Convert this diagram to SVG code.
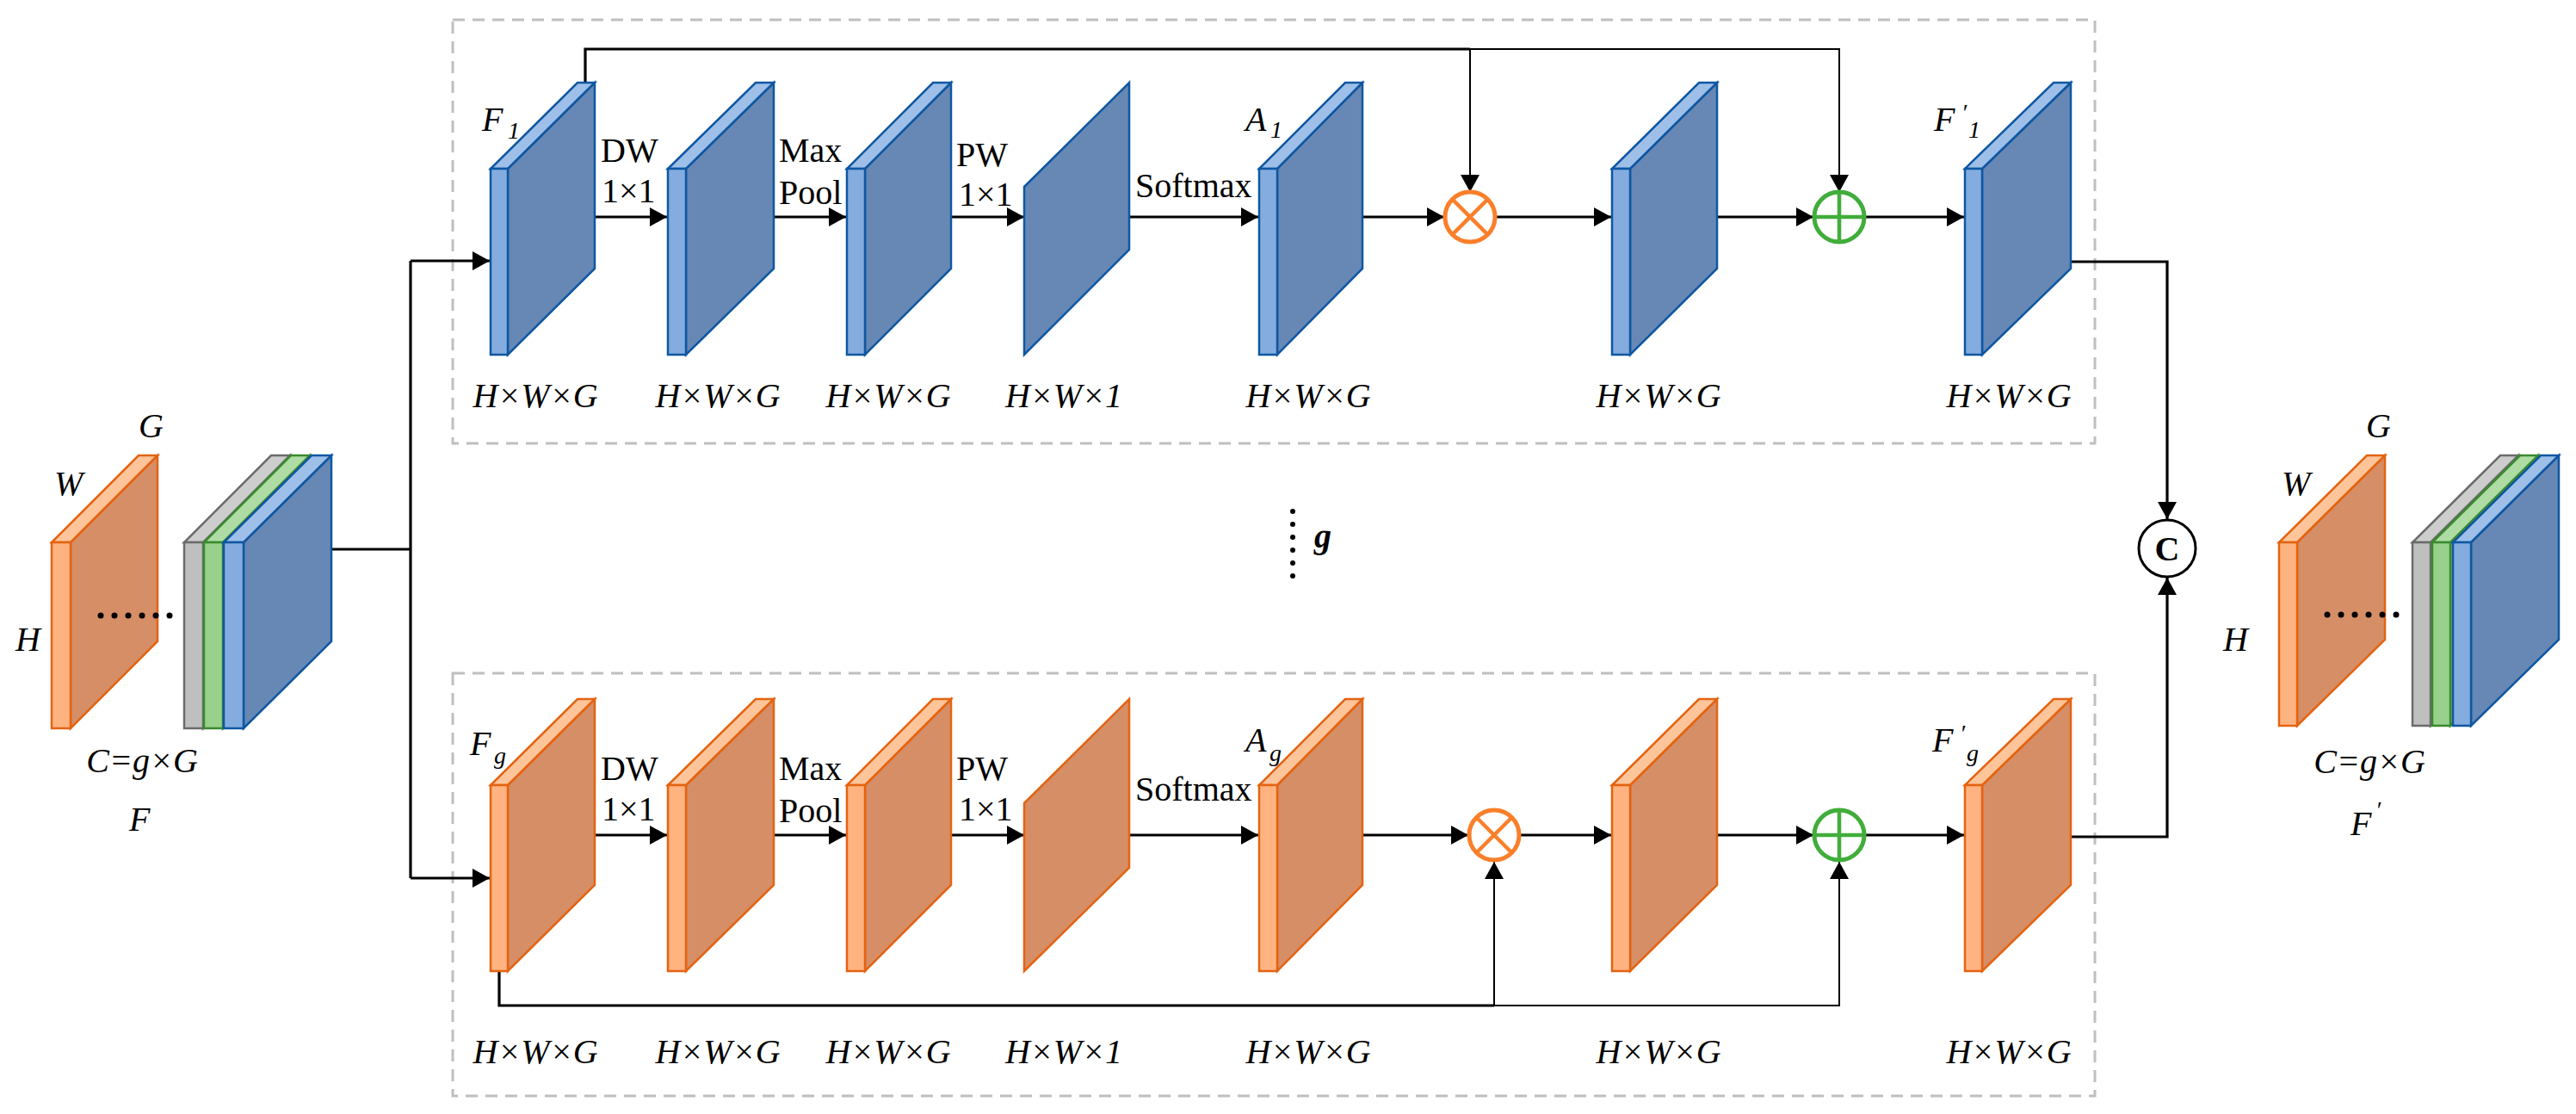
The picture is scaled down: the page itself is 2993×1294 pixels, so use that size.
<svg xmlns="http://www.w3.org/2000/svg" width="2993" height="1294" viewBox="0 0 2993 1294">
<defs>
<style>
.bs{fill:#6788B5;stroke:#0F57A2;stroke-width:2.5;stroke-linejoin:miter}
.bf{fill:#84ACDE;stroke:#0F57A2;stroke-width:2.5}
.bt{fill:#9EBFE8;stroke:#0F57A2;stroke-width:2.5}
.os{fill:#D68E66;stroke:#E46311;stroke-width:2.5}
.of{fill:#FFB380;stroke:#E46311;stroke-width:2.5}
.ot{fill:#FFC59A;stroke:#E46311;stroke-width:2.5}
.gf{fill:#BFBFBF;stroke:#6B6B6B;stroke-width:2.5}
.gt{fill:#CDCDCD;stroke:#6B6B6B;stroke-width:2.5}
.nf{fill:#97D18C;stroke:#3A8A2E;stroke-width:2.5}
.nt{fill:#AEDCA4;stroke:#3A8A2E;stroke-width:2.5}
.box{fill:none;stroke:#BFBFBF;stroke-width:3;stroke-dasharray:14 9}
.ln{fill:none;stroke:#000;stroke-width:3.2}
.tn{fill:none;stroke:#000;stroke-width:2}
.t{font-family:"Liberation Serif","Times New Roman",serif;font-size:40px;fill:#000}
.i{font-style:italic}
.sub{font-size:28px}
.m{text-anchor:middle}
</style>
<marker id="ah" viewBox="0 0 20 22" markerWidth="20" markerHeight="22" refX="20" refY="11" orient="auto" markerUnits="userSpaceOnUse">
<path d="M0,0 L20,11 L0,22 z" fill="#000"/>
</marker>
</defs>
<rect width="2993" height="1294" fill="#fff"/>

<!-- dashed group boxes -->
<rect class="box" x="526" y="23" width="1908" height="492"/>
<rect class="box" x="526" y="782" width="1908" height="491"/>

<!-- connectors -->
<g id="connectors">
<path class="ln" d="M385,638 H477"/>
<path class="ln" d="M477,303 V1020"/>
<path class="ln" d="M477,303 H569" marker-end="url(#ah)"/>
<path class="ln" d="M477,1020 H569" marker-end="url(#ah)"/>
<!-- upper row -->
<path class="ln" d="M691,252 H775" marker-end="url(#ah)"/>
<path class="ln" d="M899,252 H983" marker-end="url(#ah)"/>
<path class="ln" d="M1105,252 H1190" marker-end="url(#ah)"/>
<path class="ln" d="M1312,252 H1462" marker-end="url(#ah)"/>
<path class="ln" d="M1583,252 H1678" marker-end="url(#ah)"/>
<path class="ln" d="M1738,252 H1872" marker-end="url(#ah)"/>
<path class="ln" d="M1995,252 H2107" marker-end="url(#ah)"/>
<path class="ln" d="M2167,252 H2282" marker-end="url(#ah)"/>
<path class="ln" d="M680,96 V57 H1708"/>
<path class="tn" d="M1708,57 H2137 V223" marker-end="url(#ah)"/>
<path class="tn" d="M1708,57 V223" marker-end="url(#ah)"/>
<path class="ln" d="M2406,304 H2518 V603" marker-end="url(#ah)"/>
<!-- lower row -->
<path class="ln" d="M691,970 H775" marker-end="url(#ah)"/>
<path class="ln" d="M899,970 H983" marker-end="url(#ah)"/>
<path class="ln" d="M1105,970 H1190" marker-end="url(#ah)"/>
<path class="ln" d="M1312,970 H1462" marker-end="url(#ah)"/>
<path class="ln" d="M1583,970 H1706" marker-end="url(#ah)"/>
<path class="ln" d="M1766,970 H1872" marker-end="url(#ah)"/>
<path class="ln" d="M1995,970 H2107" marker-end="url(#ah)"/>
<path class="ln" d="M2167,970 H2282" marker-end="url(#ah)"/>
<path class="ln" d="M580,1128 V1168 H1736"/>
<path class="tn" d="M1736,1168 H2137 V1001" marker-end="url(#ah)"/>
<path class="tn" d="M1736,1168 V1001" marker-end="url(#ah)"/>
<path class="ln" d="M2406,972 H2518 V671" marker-end="url(#ah)"/>
</g>

<!-- input tensor F -->
<g id="input-F">
<polygon class="os" points="82,630 183,529 183,745 82,846"/>
<polygon class="ot" points="60,630 82,630 183,529 161,529"/>
<rect class="of" x="60" y="630" width="22" height="216"/>
<g fill="#000"><circle cx="117" cy="715" r="3.5"/><circle cx="133" cy="715" r="3.5"/><circle cx="149" cy="715" r="3.5"/><circle cx="165" cy="715" r="3.5"/><circle cx="181" cy="715" r="3.5"/><circle cx="197" cy="715" r="3.5"/></g>
<polygon class="gf" points="236,630 337,529 337,745 236,846"/>
<polygon class="gt" points="214,630 236,630 337,529 315,529"/>
<rect class="gf" x="214" y="630" width="22" height="216"/>
<polygon class="nf" points="259,630 360,529 360,745 259,846"/>
<polygon class="nt" points="237,630 259,630 360,529 338,529"/>
<rect class="nf" x="237" y="630" width="22" height="216"/>
<polygon class="bs" points="283,630 385,529 385,745 283,846"/>
<polygon class="bt" points="260,630 283,630 385,529 362,529"/>
<rect class="bf" x="260" y="630" width="23" height="216"/>
<text class="t i" x="161" y="508">G</text>
<text class="t i" x="63" y="575">W</text>
<text class="t i" x="18" y="756">H</text>
<text class="t i m" x="165" y="897">C=g×G</text>
<text class="t i" x="150" y="965">F</text>
</g>

<!-- upper branch -->
<g id="F1">
<polygon class="bs" points="590,196 691,96 691,312 590,412"/>
<polygon class="bt" points="570,196 590,196 691,96 671,96"/>
<rect class="bf" x="570" y="196" width="20" height="216"/>
<text class="t i" x="560" y="152">F</text><text class="t i sub" x="590" y="161">1</text>
<text class="t i m" x="622" y="473">H×W×G</text>
</g>
<g id="DW1">
<polygon class="bs" points="797,196 899,96 899,312 797,412"/>
<polygon class="bt" points="776,196 797,196 899,96 878,96"/>
<rect class="bf" x="776" y="196" width="21" height="216"/>
<text class="t" x="698" y="188">DW</text><text class="t" x="699" y="235">1×1</text>
<text class="t i m" x="834" y="473">H×W×G</text>
</g>
<g id="MP1">
<polygon class="bs" points="1005,196 1105,96 1105,312 1005,412"/>
<polygon class="bt" points="984,196 1005,196 1105,96 1084,96"/>
<rect class="bf" x="984" y="196" width="21" height="216"/>
<text class="t" x="905" y="188">Max</text><text class="t" x="905" y="237">Pool</text>
<text class="t i m" x="1032" y="473">H×W×G</text>
</g>
<g id="PW1">
<polygon class="bs" points="1190,217 1312,96 1312,290 1190,412"/>
<text class="t" x="1111" y="193">PW</text><text class="t" x="1114" y="239">1×1</text>
<text class="t i m" x="1236" y="473">H×W×1</text>
</g>
<g id="A1">
<polygon class="bs" points="1484,196 1583,96 1583,312 1484,412"/>
<polygon class="bt" points="1463,196 1484,196 1583,96 1563,96"/>
<rect class="bf" x="1463" y="196" width="21" height="216"/>
<text class="t" x="1319" y="229">Softmax</text>
<text class="t i" x="1447" y="152">A</text><text class="t i sub" x="1476" y="160">1</text>
<text class="t i m" x="1520" y="473">H×W×G</text>
</g>
<g id="mul1">
<circle cx="1708" cy="252" r="29" fill="#fff" stroke="#FA7F2A" stroke-width="5"/>
<path d="M1687.5,231.5 L1728.5,272.5 M1728.5,231.5 L1687.5,272.5" stroke="#FA7F2A" stroke-width="4.5"/>
</g>
<g id="M1">
<polygon class="bs" points="1894,196 1995,96 1995,312 1894,412"/>
<polygon class="bt" points="1873,196 1894,196 1995,96 1974,96"/>
<rect class="bf" x="1873" y="196" width="21" height="216"/>
<text class="t i m" x="1927" y="473">H×W×G</text>
</g>
<g id="add1">
<circle cx="2137" cy="252" r="29" fill="#fff" stroke="#41AD3B" stroke-width="5"/>
<path d="M2108,252 H2166 M2137,223 V281" stroke="#41AD3B" stroke-width="4.5"/>
</g>
<g id="Fp1">
<polygon class="bs" points="2303,196 2406,96 2406,312 2303,412"/>
<polygon class="bt" points="2283,196 2303,196 2406,96 2386,96"/>
<rect class="bf" x="2283" y="196" width="20" height="216"/>
<text class="t i" x="2247" y="152">F</text><text class="t i sub" x="2279" y="140">′</text><text class="t i sub" x="2287" y="160">1</text>
<text class="t i m" x="2334" y="473">H×W×G</text>
</g>

<!-- middle ellipsis -->
<g id="ellipsis-g">
<g fill="#000"><circle cx="1502" cy="594" r="3"/><circle cx="1502" cy="609" r="3"/><circle cx="1502" cy="624" r="3"/><circle cx="1502" cy="639" r="3"/><circle cx="1502" cy="654" r="3"/><circle cx="1502" cy="669" r="3"/></g>
<text class="t i" x="1527" y="636" font-weight="bold" font-size="44">g</text>
</g>

<!-- lower branch -->
<g id="Fg">
<polygon class="os" points="590,912 691,812 691,1028 590,1128"/>
<polygon class="ot" points="570,912 590,912 691,812 671,812"/>
<rect class="of" x="570" y="912" width="20" height="216"/>
<text class="t i" x="546" y="877">F</text><text class="t i sub" x="574" y="887">g</text>
<text class="t i m" x="622" y="1235">H×W×G</text>
</g>
<g id="DWg">
<polygon class="os" points="797,912 899,812 899,1028 797,1128"/>
<polygon class="ot" points="776,912 797,912 899,812 878,812"/>
<rect class="of" x="776" y="912" width="21" height="216"/>
<text class="t" x="698" y="906">DW</text><text class="t" x="699" y="953">1×1</text>
<text class="t i m" x="834" y="1235">H×W×G</text>
</g>
<g id="MPg">
<polygon class="os" points="1005,912 1105,812 1105,1028 1005,1128"/>
<polygon class="ot" points="984,912 1005,912 1105,812 1084,812"/>
<rect class="of" x="984" y="912" width="21" height="216"/>
<text class="t" x="905" y="906">Max</text><text class="t" x="905" y="955">Pool</text>
<text class="t i m" x="1032" y="1235">H×W×G</text>
</g>
<g id="PWg">
<polygon class="os" points="1190,933 1312,812 1312,1008 1190,1128"/>
<text class="t" x="1111" y="906">PW</text><text class="t" x="1114" y="953">1×1</text>
<text class="t i m" x="1236" y="1235">H×W×1</text>
</g>
<g id="Ag">
<polygon class="os" points="1484,912 1583,812 1583,1028 1484,1128"/>
<polygon class="ot" points="1463,912 1484,912 1583,812 1563,812"/>
<rect class="of" x="1463" y="912" width="21" height="216"/>
<text class="t" x="1319" y="930">Softmax</text>
<text class="t i" x="1447" y="873">A</text><text class="t i sub" x="1475" y="884">g</text>
<text class="t i m" x="1520" y="1235">H×W×G</text>
</g>
<g id="mulg">
<circle cx="1736" cy="970" r="29" fill="#fff" stroke="#FA7F2A" stroke-width="5"/>
<path d="M1715.5,949.5 L1756.5,990.5 M1756.5,949.5 L1715.5,990.5" stroke="#FA7F2A" stroke-width="4.5"/>
</g>
<g id="Mg">
<polygon class="os" points="1894,912 1995,812 1995,1028 1894,1128"/>
<polygon class="ot" points="1873,912 1894,912 1995,812 1974,812"/>
<rect class="of" x="1873" y="912" width="21" height="216"/>
<text class="t i m" x="1927" y="1235">H×W×G</text>
</g>
<g id="addg">
<circle cx="2137" cy="970" r="29" fill="#fff" stroke="#41AD3B" stroke-width="5"/>
<path d="M2108,970 H2166 M2137,941 V999" stroke="#41AD3B" stroke-width="4.5"/>
</g>
<g id="Fpg">
<polygon class="os" points="2303,912 2406,812 2406,1028 2303,1128"/>
<polygon class="ot" points="2283,912 2303,912 2406,812 2386,812"/>
<rect class="of" x="2283" y="912" width="20" height="216"/>
<text class="t i" x="2245" y="873">F</text><text class="t i sub" x="2277" y="861">′</text><text class="t i sub" x="2285" y="884">g</text>
<text class="t i m" x="2334" y="1235">H×W×G</text>
</g>

<!-- concat -->
<g id="concat">
<circle cx="2518" cy="637" r="33" fill="#fff" stroke="#000" stroke-width="3"/>
<text class="t m" x="2518" y="651" font-weight="bold" font-size="38">C</text>
</g>

<!-- output tensor F' -->
<g id="output-F">
<polygon class="os" points="2669,630 2771,529 2771,743 2669,843"/>
<polygon class="ot" points="2648,630 2669,630 2771,529 2750,529"/>
<rect class="of" x="2648" y="630" width="21" height="213"/>
<g fill="#000"><circle cx="2704" cy="714" r="3.5"/><circle cx="2720" cy="714" r="3.5"/><circle cx="2736" cy="714" r="3.5"/><circle cx="2752" cy="714" r="3.5"/><circle cx="2768" cy="714" r="3.5"/><circle cx="2784" cy="714" r="3.5"/></g>
<polygon class="gf" points="2824,630 2926,529 2926,743 2824,843"/>
<polygon class="gt" points="2803,630 2824,630 2926,529 2905,529"/>
<rect class="gf" x="2803" y="630" width="21" height="213"/>
<polygon class="nf" points="2847,630 2949,529 2949,743 2847,843"/>
<polygon class="nt" points="2826,630 2847,630 2949,529 2928,529"/>
<rect class="nf" x="2826" y="630" width="21" height="213"/>
<polygon class="bs" points="2871,630 2973,529 2973,743 2871,843"/>
<polygon class="bt" points="2850,630 2871,630 2973,529 2952,529"/>
<rect class="bf" x="2850" y="630" width="21" height="213"/>
<text class="t i" x="2749" y="508">G</text>
<text class="t i" x="2651" y="575">W</text>
<text class="t i" x="2583" y="756">H</text>
<text class="t i m" x="2753" y="898">C=g×G</text>
<text class="t i" x="2731" y="970">F</text><text class="t i sub" x="2760" y="950">′</text>
</g>
</svg>
